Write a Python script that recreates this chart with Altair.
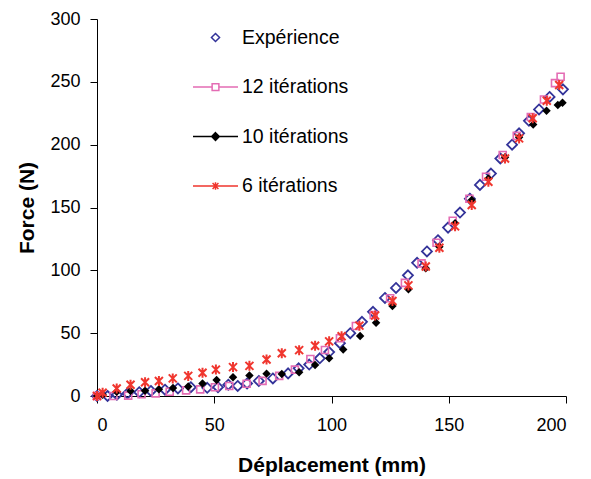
import altair as alt
import pandas as pd

# ---------------- data ----------------
series_names = ["Expérience", "12 itérations", "10 itérations", "6 itérations"]

d_exp = [0, 4.5, 8.5, 13, 18, 23, 29, 34.5, 40, 47, 51.6, 56, 60, 64, 69, 75, 81.5, 86,
         90.5, 95, 99, 103.6, 108, 113, 117.7, 122.8, 127.5, 132.6, 136.5, 140.7, 145.4,
         149.7, 154.8, 159, 163.3, 168, 172, 177, 180, 184.2, 188.5, 193, 198.7]
f_exp = [0, 0, 1, 2, 3, 4, 5, 6, 7, 6.5, 7, 9, 8, 10, 12, 14, 18, 22, 25, 30, 35, 42, 50,
         59, 67, 78, 86, 96, 106, 115, 124, 134, 146, 157, 168, 177, 189, 200, 209, 219,
         228, 238, 244]

d_12 = [0, 7, 13.3, 19, 25, 31, 38, 44, 50.3, 56.4, 63.8, 70.6, 77.7, 84.4, 91, 97.2,
        103.6, 110.4, 118, 125, 131.3, 138.4, 144.8, 151.7, 158.8, 165.9, 173, 179, 185,
        190.6, 195.3, 197.7]
f_12 = [0, 0, 0.3, 1.4, 2.1, 3.4, 4.5, 5.3, 7, 8, 9.8, 12, 16, 21, 29.5, 36.6, 46, 55.7,
        64.5, 77.8, 90, 105.5, 122, 139.5, 157, 174.5, 191.8, 207, 222, 236, 249, 254]

d_10 = [0, 2.4, 8.4, 14.3, 20.5, 26.4, 32.4, 38.9, 45, 51, 58, 65, 72.3, 78.8, 86.2, 93,
        99, 105, 112.2, 119, 126, 132.8, 140.2, 146, 152.7, 159.8, 166.9, 174, 180, 186,
        191.7, 196.5, 198.5]
f_10 = [0, 1, 3.4, 4, 4.2, 5.3, 6.3, 7.6, 10, 12.7, 15, 16.3, 17.8, 17.6, 18.9, 24.7, 30,
        37, 47.7, 58.3, 71.6, 85, 101.6, 118.8, 137.4, 156, 173, 190, 206, 216, 227,
        231.5, 233.4]

d_6 = [0, 2.4, 8.4, 14.3, 20.5, 26.4, 32.3, 38.9, 45, 50.7, 58, 65, 72.3, 78.8, 86.2, 93,
       99, 104.3, 111.9, 118.6, 126, 132.8, 140.2, 146, 152.7, 159.8, 166.9, 174, 180,
       185.8, 191.8, 197.1]
f_6 = [0, 2.6, 6, 9, 11, 12, 14, 16, 18.5, 21, 23, 24, 29, 34, 36.5, 40, 43.5, 47.5, 56,
       64, 75.6, 88, 103, 118, 135, 152, 170.5, 189, 205, 221, 235, 247.5]

x_ticks = [0, 50, 100, 150, 200]
y_ticks = [0, 50, 100, 150, 200, 250, 300]

# ---------------- styles ----------------
NAVY = "#333399"
PINK = "#e46cb4"
BLACK = "#000000"
RED = "#f0362e"
FONT = "Liberation Sans"

DIAMOND = "M0,-1L1,0L0,1L-1,0Z"
SQUARE = "M-1,-1L1,-1L1,1L-1,1Z"
STAR = "M-1,-1L1,1M-1,1L1,-1M0,-1.25L0,1.25"

leg_paths = [
    "M0,-0.18L0.18,0L0,0.18L-0.18,0Z",
    "M-1,0H-0.15M0.15,0H1M-0.15,-0.15H0.15V0.15H-0.15Z",
    "M-1,0H1M0,-0.17L0.17,0L0,0.17L-0.17,0Z",
    "M-1,0H1M-0.13,-0.13L0.13,0.13M-0.13,0.13L0.13,-0.13M0,-0.17V0.17",
]
leg_strokes = [NAVY, PINK, BLACK, RED]
leg_fills = ["white", "white", BLACK, "white"]

x_scale = alt.Scale(domain=[0, 200], nice=False)
y_scale = alt.Scale(domain=[0, 300], nice=False)
x_axis = alt.Axis(values=x_ticks, title="Déplacement (mm)", grid=False)
y_axis = alt.Axis(values=y_ticks, title="Force (N)", grid=False)


def pts(d, f, **mark):
    df = pd.DataFrame({"d": d, "F": f})
    return alt.Chart(df).mark_point(opacity=1, **mark).encode(
        x=alt.X("d:Q", scale=x_scale, axis=x_axis),
        y=alt.Y("F:Q", scale=y_scale, axis=y_axis),
    )


exp_layer = pts(d_exp, f_exp, shape=DIAMOND, size=100, filled=False, color=NAVY, strokeWidth=1.8)
l12 = pts(d_12, f_12, shape=SQUARE, size=49, filled=False, color=PINK, strokeWidth=1.6)
l10 = pts(d_10, f_10, shape=DIAMOND, size=72, filled=True, color=BLACK)
l6 = pts(d_6, f_6, shape=STAR, size=64, filled=False, color=RED, strokeWidth=2)

leg_df = pd.DataFrame({"series": series_names, "d": [0] * 4, "F": [0] * 4})
legend_layer = alt.Chart(leg_df).transform_filter("false").mark_point(
    filled=True, opacity=1, strokeWidth=1.5
).encode(
    x=alt.X("d:Q", scale=x_scale, axis=x_axis),
    y=alt.Y("F:Q", scale=y_scale, axis=y_axis),
    shape=alt.Shape("series:N", scale=alt.Scale(domain=series_names, range=leg_paths),
                    legend=alt.Legend(title=None)),
    stroke=alt.Stroke("series:N", scale=alt.Scale(domain=series_names, range=leg_strokes),
                      legend=alt.Legend(title=None)),
    fill=alt.Fill("series:N", scale=alt.Scale(domain=series_names, range=leg_fills),
                  legend=alt.Legend(title=None)),
)

chart = alt.layer(exp_layer, l12, l10, l6, legend_layer).properties(
    width=469,
    height=377,
    autosize=alt.AutoSizeParams(type="none"),
    padding={"left": 97, "top": 19, "right": 25, "bottom": 83},
    background="white",
).configure_view(
    stroke=None
).configure_axis(
    domainColor="black",
    domainWidth=1,
    tickColor="black",
    tickSize=7,
    tickWidth=1,
    labelFont=FONT,
    labelFontSize=18,
    labelColor="black",
    titleFont=FONT,
    titleFontSize=21,
    titleFontWeight="bold",
    titleColor="black",
).configure_axisX(
    labelPadding=13,
    titlePadding=20,
).configure_axisY(
    labelPadding=10,
    titlePadding=12,
).configure_legend(
    orient="none",
    legendX=95,
    legendY=-5,
    symbolSize=2025,
    symbolStrokeWidth=1.5,
    labelFont=FONT,
    labelFontSize=19.5,
    labelColor="black",
    labelOffset=3,
    rowPadding=16.5,
    padding=0,
)

chart.save("out.html", embed_options={"renderer": "svg", "actions": False})
